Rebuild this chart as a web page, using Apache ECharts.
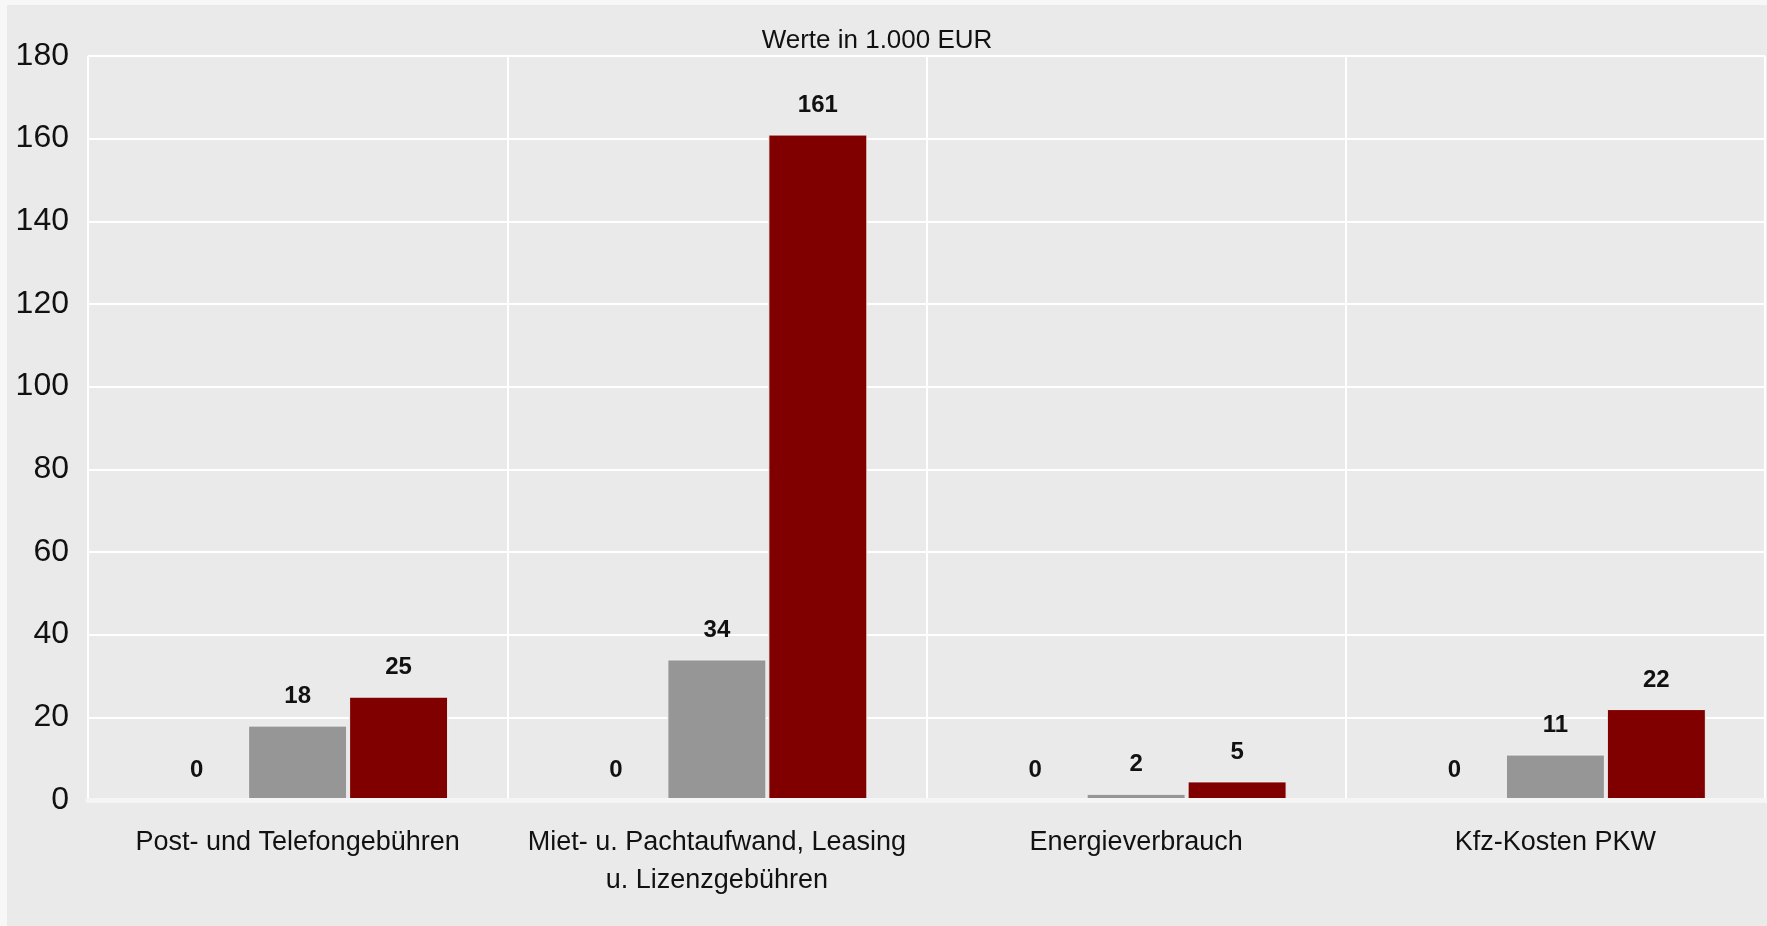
<!DOCTYPE html>
<html>
<head>
<meta charset="utf-8">
<script src="https://cdn.jsdelivr.net/npm/echarts@6/dist/echarts.min.js"></script>
<style>
  html, body { margin: 0; padding: 0; background: #f7f7f7; width: 1767px; height: 926px; overflow: hidden; }
  #chart { position: absolute; left: 7px; top: 5px; width: 1760px; height: 921px; background: #e9eae9; }
</style>
</head>
<body>
<div id="chart"></div>
<script>
const categories = [
  'Post- und Telefongebühren',
  'Miet- u. Pachtaufwand, Leasing\nu. Lizenzgebühren',
  'Energieverbrauch',
  'Kfz-Kosten PKW'
];
const seriesA = [0, 0, 0, 0];
const seriesB = [18, 34, 1.5, 11];
const seriesC = [25, 161, 4.5, 22];
const yTicks = { min: 0, max: 180, interval: 20 };
const subtitle = 'Werte in 1.000 EUR';

const font = '"Liberation Sans", Arial, sans-serif';
const chart = echarts.init(document.getElementById('chart'));

function barSeries(name, data, color) {
  return {
    name: name,
    type: 'bar',
    data: data,
    barWidth: 99,
    barGap: '2%',
    itemStyle: { color: color, borderColor: '#f0f0f0', borderWidth: 1 },
    label: {
      show: true,
      position: 'top',
      distance: 17,
      fontFamily: font,
      fontSize: 24,
      fontWeight: 'bold',
      color: '#111',
      formatter: p => String(Math.round(p.value))
    }
  };
}

chart.setOption({
  animation: false,
  backgroundColor: 'transparent',
  title: {
    text: subtitle,
    left: 870,
    top: 23,
    padding: 0,
    textAlign: 'center',
    textStyle: { fontFamily: font, fontSize: 26, fontWeight: 'normal', color: '#111' }
  },
  grid: { left: 81, right: 2, top: 51, bottom: 126, containLabel: false },
  xAxis: {
    type: 'category',
    data: categories,
    z: 3,
    axisLine: { show: true, lineStyle: { color: '#f5f5f5', width: 5 } },
    axisTick: { show: false },
    splitLine: { show: true, lineStyle: { color: '#ffffff', width: 2 } },
    axisLabel: {
      margin: 24,
      fontFamily: font,
      fontSize: 27,
      lineHeight: 38,
      color: '#111',
      interval: 0
    }
  },
  yAxis: {
    type: 'value',
    min: yTicks.min,
    max: yTicks.max,
    interval: yTicks.interval,
    axisLine: { show: false },
    axisTick: { show: false },
    splitLine: { show: true, lineStyle: { color: '#ffffff', width: 2 } },
    axisLabel: { margin: 19, fontFamily: font, fontSize: 32, color: '#111' }
  },
  series: [
    barSeries('A', seriesA, '#969696'),
    barSeries('B', seriesB, '#969696'),
    barSeries('C', seriesC, '#800000')
  ]
});
</script>
</body>
</html>
